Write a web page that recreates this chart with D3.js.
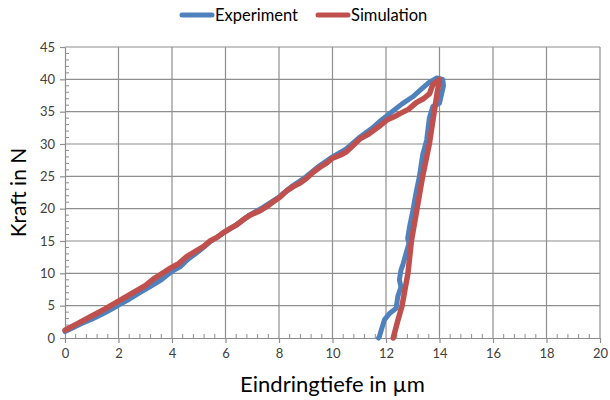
<!DOCTYPE html>
<html>
<head>
<meta charset="utf-8">
<script src="https://cdn.jsdelivr.net/npm/d3@7"></script>
<style>
  html, body { margin: 0; padding: 0; background: #fff; }
  svg { display: block; }
  text { font-family: Lato, "Open Sans", "Liberation Sans", sans-serif; }
</style>
</head>
<body>
<svg id="chart" width="610" height="400"></svg>
<script>
// Indentation test: force (N) over penetration depth (µm)
const seriesNames = ["Experiment", "Simulation"];
const seriesColors = ["#4F81BD", "#C0504D"];

const xTicks = [0, 2, 4, 6, 8, 10, 12, 14, 16, 18, 20];
const yTicks = [0, 5, 10, 15, 20, 25, 30, 35, 40, 45];

// Measured curve: loading branch, then unloading branch
const experimentDepth = [
  0.0, 0.3, 0.6, 1.0, 1.4, 1.8, 2.0, 2.4, 2.8, 3.2, 3.6, 4.0, 4.3, 4.6, 5.0,
  5.4, 5.9, 6.4, 6.9, 7.4, 8.0, 8.5, 9.0, 9.5, 10.0, 10.5, 11.0, 11.5, 11.8,
  12.2, 12.6, 13.0, 13.3, 13.6, 13.9, 14.12, 14.15, 14.06, 14.0,
  13.75, 13.62, 13.52, 13.37, 13.25, 13.12, 13.0, 12.88, 12.81, 12.86, 12.75,
  12.63, 12.56, 12.5, 12.56, 12.44, 12.38, 12.13, 11.94, 11.75, 11.72
];
const experimentForce = [
  1.0, 1.6, 2.2, 2.9, 3.7, 4.6, 5.1, 6.0, 7.0, 8.0, 9.0, 10.3, 11.0, 12.2, 13.4,
  14.8, 16.2, 17.5, 19.0, 20.2, 21.8, 23.5, 24.9, 26.6, 28.0, 29.2, 31.0, 32.5, 33.6,
  34.9, 36.2, 37.3, 38.4, 39.5, 40.2, 40.0, 39.0, 37.4, 36.3,
  35.8, 34.0, 30.6, 28.3, 25.0, 22.4, 19.6, 17.2, 15.4, 14.6, 13.1,
  11.3, 10.5, 9.0, 7.9, 6.4, 4.6, 3.8, 2.8, 0.2, 0.0
];

// Simulated curve: loading branch, then unloading branch
const simulationDepth = [
  0.0, 0.5, 1.0, 1.5, 2.0, 2.5, 3.0, 3.3, 3.6, 3.94, 4.25, 4.55, 4.92, 5.2, 5.42,
  5.7, 5.92, 6.2, 6.42, 6.7, 6.92, 7.25, 7.54, 7.8, 8.04, 8.3, 8.53, 8.8, 9.03,
  9.3, 9.53, 9.8, 10.0, 10.3, 10.52, 10.8, 11.03, 11.3, 11.53, 11.8, 12.03,
  12.3, 12.52, 12.85, 13.13, 13.4, 13.63, 13.75, 14.0,
  13.9, 13.62, 13.37, 13.16, 12.95, 12.82, 12.6, 12.43, 12.27
];
const simulationForce = [
  1.2, 2.3, 3.4, 4.5, 5.7, 6.9, 8.1, 9.1, 9.9, 10.8, 11.5, 12.6, 13.5, 14.2, 15.0,
  15.6, 16.3, 17.0, 17.5, 18.4, 19.0, 19.6, 20.3, 21.1, 21.8, 22.8, 23.4, 24.0, 24.7,
  25.7, 26.4, 27.1, 27.8, 28.3, 28.8, 29.9, 30.8, 31.4, 32.1, 32.9, 33.7,
  34.2, 34.7, 35.4, 36.4, 37.0, 37.8, 39.2, 40.0,
  37.6, 30.0, 25.0, 20.0, 15.0, 10.0, 5.0, 2.5, 0.0
];

const svg = d3.select("#chart");
const x = d3.scaleLinear().domain([0, 20]).range([65, 600]);
const y = d3.scaleLinear().domain([0, 45]).range([338, 47]);

const gridColor = "#8e8e8e";
const textColor = "#404040";

// Grid lines
const grid = svg.append("g");
grid.selectAll("line.vx").data(xTicks.slice(1)).join("line")
  .attr("x1", d => x(d)).attr("x2", d => x(d))
  .attr("y1", y(0)).attr("y2", y(45))
  .attr("stroke", gridColor).attr("stroke-width", 1.2);
grid.selectAll("line.hy").data(yTicks.slice(1)).join("line")
  .attr("x1", x(0)).attr("x2", x(20))
  .attr("y1", d => y(d)).attr("y2", d => y(d))
  .attr("stroke", gridColor).attr("stroke-width", 1.2);

// Minor ticks pointing into the plot
const xMinor = d3.range(0, 20.001, 0.4).filter(v => Math.abs(v / 2 - Math.round(v / 2)) > 1e-6);
const yMinor = d3.range(0, 45.001, 1).filter(v => v % 5 !== 0);
svg.append("g").selectAll("line").data(xMinor).join("line")
  .attr("x1", d => x(d)).attr("x2", d => x(d))
  .attr("y1", y(0)).attr("y2", y(0) - 4)
  .attr("stroke", gridColor).attr("stroke-width", 1);
svg.append("g").selectAll("line").data(yMinor).join("line")
  .attr("x1", x(0)).attr("x2", x(0) + 4)
  .attr("y1", d => y(d)).attr("y2", d => y(d))
  .attr("stroke", gridColor).attr("stroke-width", 1);

// Axes
const xAxis = d3.axisBottom(x).tickValues(xTicks).tickSize(5).tickSizeOuter(0).tickPadding(6);
const yAxis = d3.axisLeft(y).tickValues(yTicks).tickSize(5).tickSizeOuter(0).tickPadding(5);

const gx = svg.append("g").attr("transform", `translate(0,${y(0)})`).call(xAxis);
const gy = svg.append("g").attr("transform", `translate(${x(0)},0)`).call(yAxis);
[gx, gy].forEach(g => {
  g.select(".domain").attr("stroke", gridColor).attr("stroke-width", 1.2);
  g.selectAll(".tick line").attr("stroke", gridColor).attr("stroke-width", 1.2);
  g.selectAll(".tick text").attr("fill", textColor).attr("font-size", 13)
    .attr("font-family", "Lato, 'Open Sans', sans-serif");
});

// Axis titles
svg.append("text")
  .attr("x", x(10)).attr("y", 392)
  .attr("text-anchor", "middle")
  .attr("font-size", 22).attr("fill", "#000")
  .text("Eindringtiefe in µm");
svg.append("text")
  .attr("transform", `translate(26,${y(22.5)}) rotate(-90)`)
  .attr("text-anchor", "middle")
  .attr("font-size", 21).attr("fill", "#000")
  .text("Kraft in N");

// Curves
const series = [
  { name: seriesNames[0], color: seriesColors[0], width: 5,
    pts: experimentDepth.map((d, i) => [d, experimentForce[i]]) },
  { name: seriesNames[1], color: seriesColors[1], width: 5.5,
    pts: simulationDepth.map((d, i) => [d, simulationForce[i]]) }
];
const line = d3.line().x(d => x(d[0])).y(d => y(d[1])).curve(d3.curveLinear);
svg.append("g").selectAll("path").data(series).join("path")
  .attr("d", d => line(d.pts))
  .attr("fill", "none")
  .attr("stroke", d => d.color)
  .attr("stroke-width", d => d.width)
  .attr("stroke-linejoin", "round")
  .attr("stroke-linecap", "round");

// Legend
const legend = svg.append("g");
const legendX = [182, 318];
series.forEach((s, i) => {
  const g = legend.append("g").attr("transform", `translate(${legendX[i]},15)`);
  g.append("line").attr("x1", 0).attr("x2", 30).attr("y1", 0).attr("y2", 0)
    .attr("stroke", s.color).attr("stroke-width", 5).attr("stroke-linecap", "round");
  g.append("text").attr("x", 33).attr("y", 5.5)
    .attr("font-size", 16.5).attr("fill", "#000").text(s.name);
});
</script>
</body>
</html>
